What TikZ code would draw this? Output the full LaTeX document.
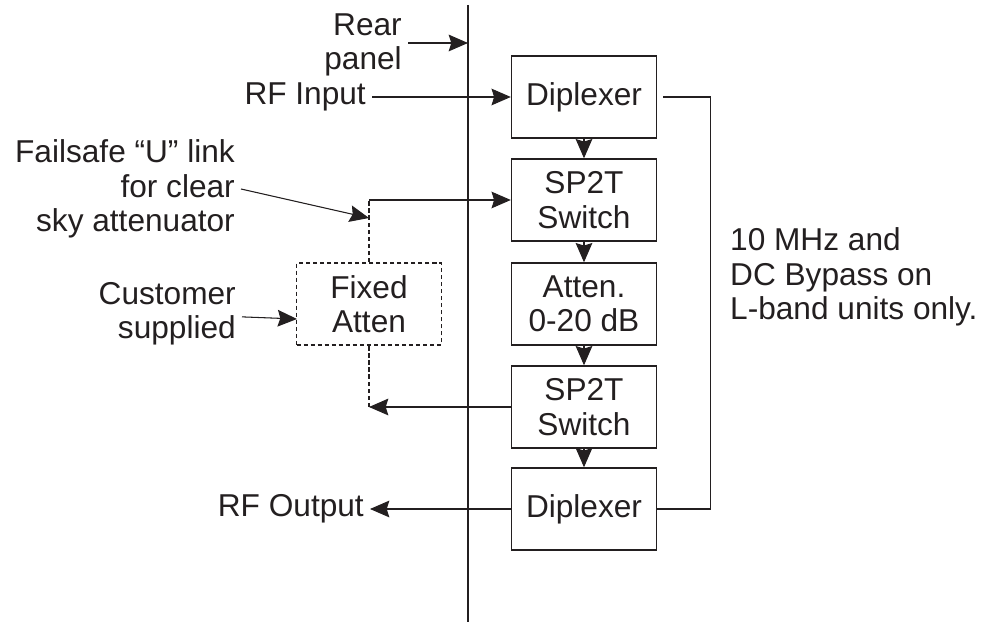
\documentclass[tikz,border=0pt]{standalone}
\usepackage{fontspec}
\setmainfont{Liberation Sans}
\usepackage{tikz}
\usetikzlibrary{arrows.meta,positioning}
\definecolor{ink}{HTML}{231F20}

\begin{document}
\begin{tikzpicture}[
  x=0.02cm,y=-0.02cm,
  font=\fontsize{18pt}{19.5pt}\selectfont,
  blk/.style={draw=ink,line width=0.8pt,text=ink,minimum width=2.9cm,
              minimum height=1.64cm,inner sep=0pt,align=center},
  ext/.style={blk,line width=1.1pt,dash pattern=on 2.5pt off 1.5pt},
  lab/.style={text=ink,align=right},
  ln/.style={draw=ink,line width=0.6pt},
  dsh/.style={draw=ink,line width=1.2pt,dash pattern=on 2.5pt off 1.5pt},
  ar/.style={-{Stealth[length=11pt,width=9.5pt,inset=1.5pt]},draw=ink,fill=ink,line width=0.6pt}]
\useasboundingbox (0,0) rectangle (988,624);

% ---- the rear panel -------------------------------------------------------
\coordinate (ptop) at (468,5);
\coordinate (pbot) at (468,622);
\draw[ln] (ptop) -- (pbot);
\node[lab,anchor=east] (rear) at (408,45) {Rear\\panel};
\coordinate (rp) at (468,43);
\draw[ar] (rear.east |- rp) -- (rp);

% ---- the signal chain -----------------------------------------------------
\node[blk] (dip1) at (584,97)  {Diplexer};
\node[blk] (sw1)  at (584,200) {SP2T\\Switch};
\node[blk] (att)  at (584,304) {Atten.\\0-20 dB};
\node[blk] (sw2)  at (584,407) {SP2T\\Switch};
\node[blk] (dip2) at (584,509) {Diplexer};
\draw[ar] (dip1) -- (sw1);
\draw[ar] (sw1)  -- (att);
\draw[ar] (att)  -- (sw2);
\draw[ar] (sw2)  -- (dip2);

\node[lab,anchor=east] (rfin)  at (372,97)  {RF Input};
\node[lab,anchor=east] (rfout) at (370,509) {RF Output};
\draw[ar] (rfin) -- (dip1);
\draw[ar] (dip2) -- (rfout);

% ---- bypass round the chain ----------------------------------------------
\coordinate (bp) at ([xshift=3.5pt]dip1.east);
\draw[ln] (bp) -- ++(47,0) |- (dip2.east);
\node[lab,align=left,anchor=west] (bynote) at (724,277)
  {10 MHz and\\DC Bypass on\\L-band units only.};

% ---- the external attenuator loop ----------------------------------------
\node[ext] (fix) at (369,304) {Fixed\\Atten};
\coordinate (fu) at (fix.north |- sw1.west);
\coordinate (fd) at (fix.south |- sw2.west);
\draw[dsh] (fix) -- (fu);
\draw[ar] (fu) -- (sw1);
\draw[ar] (sw2) -- (fd);
\draw[dsh] (fd) -- (fix);

\node[lab,anchor=east] (fail) at (241,189)
  {Failsafe “U” link\\for clear\\sky attenuator};
\coordinate (uk) at (369,218);
\draw[ar] (fail.east) -- (uk);

\node[lab,anchor=east] (cust) at (242,314) {Customer\\supplied};
\coordinate (cs) at (297,319);
\draw[ar] (cust) -- (cs);
\end{tikzpicture}
\end{document}
